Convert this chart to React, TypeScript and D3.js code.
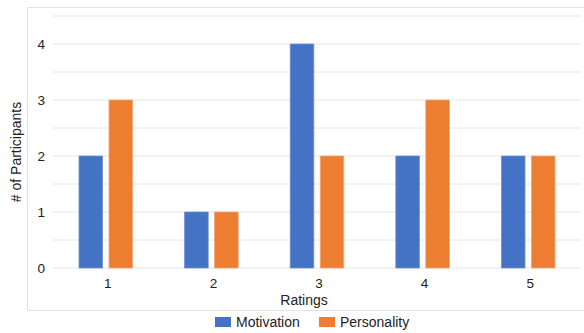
import React from "react";
import * as d3 from "d3";

const ratings = ["1", "2", "3", "4", "5"];
const motivation = [2, 1, 4, 2, 2];
const personality = [3, 1, 2, 3, 2];
const yTicks = [0, 1, 2, 3, 4];
const gridValues = [0, 0.5, 1, 1.5, 2, 2.5, 3, 3.5, 4, 4.5];
const seriesNames = ["Motivation", "Personality"];
const seriesColors = ["#4472C4", "#ED7D31"];

const W = 584;
const H = 333;
const plot = { left: 53, right: 581, top: 16, bottom: 268 };
const font = "'Liberation Sans', Arial, sans-serif";

export default function App() {
  const x = d3.scaleBand<string>().domain(ratings).range([plot.left, plot.right]);
  const y = d3.scaleLinear().domain([0, 4.5]).range([plot.bottom, plot.top]);
  const bw = 23.6;
  const gap = 3.2;
  const series = [motivation, personality];

  return (
    <svg
      width={W}
      height={H}
      style={{ position: "absolute", left: 0, top: 0, background: "#fff" }}
    >
      <rect x={27.5} y={7.5} width={W} height={303} fill="none" stroke="#e3e3e3" />
      {gridValues.map((v) => (
        <line
          key={v}
          x1={plot.left}
          x2={plot.right}
          y1={y(v)}
          y2={y(v)}
          stroke="#e6e6e6"
          strokeWidth={1}
        />
      ))}
      {yTicks.map((v) => (
        <text
          key={v}
          x={45}
          y={y(v)}
          dy="0.35em"
          textAnchor="end"
          fontFamily={font}
          fontSize={13.5}
          fill="#222"
        >
          {v}
        </text>
      ))}
      {ratings.map((r, i) => {
        const c = (x(r) as number) + x.bandwidth() / 2;
        return (
          <g key={r}>
            {series.map((vals, s) => {
              const x0 = s === 0 ? c - gap - bw : c + gap;
              return (
                <rect
                  key={s}
                  x={x0}
                  y={y(vals[i])}
                  width={bw}
                  height={y(0) - y(vals[i])}
                  fill={seriesColors[s]}
                  stroke={s === 0 ? "#6f93d3" : "#f3a77a"}
                  strokeWidth={0.8}
                />
              );
            })}
            <text
              x={c + 2}
              y={288}
              textAnchor="middle"
              fontFamily={font}
              fontSize={13.5}
              fill="#222"
            >
              {r}
            </text>
          </g>
        );
      })}
      <text
        x={304}
        y={305}
        textAnchor="middle"
        fontFamily={font}
        fontSize={14}
        fill="#222"
      >
        Ratings
      </text>
      <text
        transform={`translate(21,152) rotate(-90)`}
        textAnchor="middle"
        fontFamily={font}
        fontSize={14}
        fill="#222"
      >
        # of Participants
      </text>
      {seriesNames.map((n, i) => {
        const lx = i === 0 ? 215 : 319;
        return (
          <g key={n}>
            <rect x={lx} y={317} width={16} height={10} fill={seriesColors[i]} />
            <text x={lx + 21} y={327} fontFamily={font} fontSize={14} fill="#222">
              {n}
            </text>
          </g>
        );
      })}
    </svg>
  );
}
